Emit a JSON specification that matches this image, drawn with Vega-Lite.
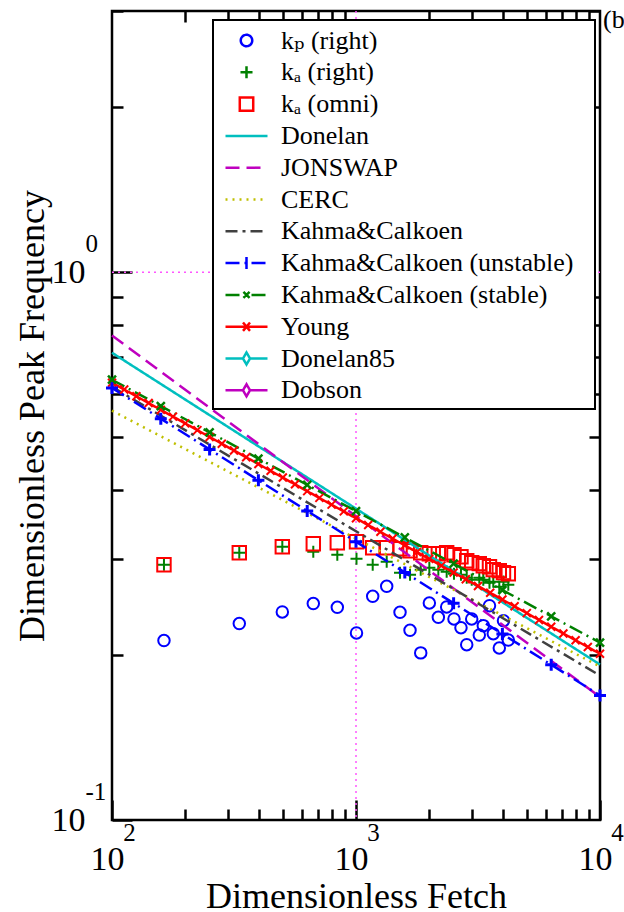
{
  "$schema": "https://vega.github.io/schema/vega-lite/v6.json",
  "width": 488,
  "height": 809,
  "autosize": {"type": "none"},
  "padding": {"left": 112, "top": 11, "right": 24, "bottom": 92},
  "background": "white",
  "config": {
    "font": "Times New Roman, Liberation Serif, DejaVu Serif, serif",
    "view": {"stroke": "black", "strokeWidth": 2.5},
    "style": {
      "guide-label": {"font": "Times New Roman, Liberation Serif, DejaVu Serif, serif", "fill": "black"},
      "guide-title": {"font": "Times New Roman, Liberation Serif, DejaVu Serif, serif", "fill": "black", "fontWeight": "normal"}
    },
    "axis": {"grid": false, "domain": false, "tickColor": "black", "tickWidth": 2.5, "labelFont": "Times New Roman, Liberation Serif, DejaVu Serif, serif", "titleFont": "Times New Roman, Liberation Serif, DejaVu Serif, serif", "labelColor": "black", "titleColor": "black", "titleFontWeight": "normal", "labelFlush": false, "labelOverlap": false},
    "legend": {"labelFont": "Times New Roman, Liberation Serif, DejaVu Serif, serif", "titleFont": "Times New Roman, Liberation Serif, DejaVu Serif, serif"},
    "text": {"font": "Times New Roman, Liberation Serif, DejaVu Serif, serif"}
  },
  "datasets": {
    "vrule": [{"x": 1000}],
    "hrule": [{"y": 1}],
    "tag": [{"x": 10000, "y": 3, "t": "(b)"}],
    "scatter": [
      {"series": "kₚ (right)", "x": 163.3, "y": 0.2126},
      {"series": "kₚ (right)", "x": 332.4, "y": 0.2284},
      {"series": "kₚ (right)", "x": 498.9, "y": 0.2398},
      {"series": "kₚ (right)", "x": 668.3, "y": 0.2484},
      {"series": "kₚ (right)", "x": 838.3, "y": 0.2445},
      {"series": "kₚ (right)", "x": 1004.7, "y": 0.2196},
      {"series": "kₚ (right)", "x": 1170.7, "y": 0.2561},
      {"series": "kₚ (right)", "x": 1336, "y": 0.2671},
      {"series": "kₚ (right)", "x": 1515, "y": 0.2394},
      {"series": "kₚ (right)", "x": 1665, "y": 0.222},
      {"series": "kₚ (right)", "x": 1842, "y": 0.2019},
      {"series": "kₚ (right)", "x": 1998, "y": 0.249},
      {"series": "kₚ (right)", "x": 2175, "y": 0.2345},
      {"series": "kₚ (right)", "x": 2353, "y": 0.2449},
      {"series": "kₚ (right)", "x": 2521, "y": 0.2329},
      {"series": "kₚ (right)", "x": 2693, "y": 0.2245},
      {"series": "kₚ (right)", "x": 2843, "y": 0.209},
      {"series": "kₚ (right)", "x": 2980, "y": 0.2329},
      {"series": "kₚ (right)", "x": 3201, "y": 0.2176},
      {"series": "kₚ (right)", "x": 3324, "y": 0.2264},
      {"series": "kₚ (right)", "x": 3524, "y": 0.2462},
      {"series": "kₚ (right)", "x": 3653, "y": 0.2189},
      {"series": "kₚ (right)", "x": 3866, "y": 0.2061},
      {"series": "kₚ (right)", "x": 4022, "y": 0.2312},
      {"series": "kₚ (right)", "x": 4209, "y": 0.2131},
      {"series": "kₐ (right)", "x": 163.3, "y": 0.2925},
      {"series": "kₐ (right)", "x": 332.4, "y": 0.3076},
      {"series": "kₐ (right)", "x": 498.9, "y": 0.3155},
      {"series": "kₐ (right)", "x": 668.3, "y": 0.309},
      {"series": "kₐ (right)", "x": 838.3, "y": 0.3051},
      {"series": "kₐ (right)", "x": 1004.7, "y": 0.3},
      {"series": "kₐ (right)", "x": 1170.7, "y": 0.2925},
      {"series": "kₐ (right)", "x": 1336, "y": 0.2963},
      {"series": "kₐ (right)", "x": 1515, "y": 0.2829},
      {"series": "kₐ (right)", "x": 1665, "y": 0.2805},
      {"series": "kₐ (right)", "x": 1842, "y": 0.2865},
      {"series": "kₐ (right)", "x": 1998, "y": 0.2889},
      {"series": "kₐ (right)", "x": 2175, "y": 0.2865},
      {"series": "kₐ (right)", "x": 2353, "y": 0.2841},
      {"series": "kₐ (right)", "x": 2521, "y": 0.2817},
      {"series": "kₐ (right)", "x": 2693, "y": 0.2805},
      {"series": "kₐ (right)", "x": 2843, "y": 0.277},
      {"series": "kₐ (right)", "x": 2980, "y": 0.2747},
      {"series": "kₐ (right)", "x": 3201, "y": 0.277},
      {"series": "kₐ (right)", "x": 3324, "y": 0.2747},
      {"series": "kₐ (right)", "x": 3524, "y": 0.2712},
      {"series": "kₐ (right)", "x": 3653, "y": 0.2724},
      {"series": "kₐ (right)", "x": 3866, "y": 0.2667},
      {"series": "kₐ (right)", "x": 4022, "y": 0.2724},
      {"series": "kₐ (right)", "x": 4209, "y": 0.2689},
      {"series": "kₐ (omni)", "x": 163.3, "y": 0.2925},
      {"series": "kₐ (omni)", "x": 332.4, "y": 0.3076},
      {"series": "kₐ (omni)", "x": 498.9, "y": 0.3155},
      {"series": "kₐ (omni)", "x": 668.3, "y": 0.3195},
      {"series": "kₐ (omni)", "x": 838.3, "y": 0.3209},
      {"series": "kₐ (omni)", "x": 1004.7, "y": 0.3222},
      {"series": "kₐ (omni)", "x": 1170.7, "y": 0.3142},
      {"series": "kₐ (omni)", "x": 1336, "y": 0.3142},
      {"series": "kₐ (omni)", "x": 1515, "y": 0.3129},
      {"series": "kₐ (omni)", "x": 1665, "y": 0.3102},
      {"series": "kₐ (omni)", "x": 1842, "y": 0.3076},
      {"series": "kₐ (omni)", "x": 1998, "y": 0.3064},
      {"series": "kₐ (omni)", "x": 2175, "y": 0.3064},
      {"series": "kₐ (omni)", "x": 2353, "y": 0.3076},
      {"series": "kₐ (omni)", "x": 2521, "y": 0.3051},
      {"series": "kₐ (omni)", "x": 2693, "y": 0.3025},
      {"series": "kₐ (omni)", "x": 2843, "y": 0.2975},
      {"series": "kₐ (omni)", "x": 2980, "y": 0.295},
      {"series": "kₐ (omni)", "x": 3201, "y": 0.2938},
      {"series": "kₐ (omni)", "x": 3324, "y": 0.2913},
      {"series": "kₐ (omni)", "x": 3524, "y": 0.2901},
      {"series": "kₐ (omni)", "x": 3653, "y": 0.2865},
      {"series": "kₐ (omni)", "x": 3866, "y": 0.2853},
      {"series": "kₐ (omni)", "x": 4022, "y": 0.2829},
      {"series": "kₐ (omni)", "x": 4209, "y": 0.2817}
    ],
    "lines": [
      {"series": "Donelan", "x": 100, "y": 0.713},
      {"series": "Donelan", "x": 10000, "y": 0.1922},
      {"series": "JONSWAP", "x": 100, "y": 0.767},
      {"series": "JONSWAP", "x": 10000, "y": 0.1677},
      {"series": "CERC", "x": 100, "y": 0.559},
      {"series": "CERC", "x": 10000, "y": 0.1906},
      {"series": "Kahma&Calkoen", "x": 100, "y": 0.618},
      {"series": "Kahma&Calkoen", "x": 10000, "y": 0.1835},
      {"series": "Kahma&Calkoen (unstable)", "x": 100, "y": 0.615},
      {"series": "Kahma&Calkoen (unstable)", "x": 10000, "y": 0.1688},
      {"series": "Kahma&Calkoen (stable)", "x": 100, "y": 0.6366},
      {"series": "Kahma&Calkoen (stable)", "x": 10000, "y": 0.2108},
      {"series": "Young", "x": 100, "y": 0.6286},
      {"series": "Young", "x": 10000, "y": 0.2011}
    ],
    "young": [
      {"series": "Young", "x": 100, "y": 0.6286},
      {"series": "Young", "x": 112.2, "y": 0.6109},
      {"series": "Young", "x": 125.9, "y": 0.5938},
      {"series": "Young", "x": 141.3, "y": 0.5771},
      {"series": "Young", "x": 158.5, "y": 0.5609},
      {"series": "Young", "x": 177.8, "y": 0.5451},
      {"series": "Young", "x": 199.5, "y": 0.5299},
      {"series": "Young", "x": 223.9, "y": 0.515},
      {"series": "Young", "x": 251.2, "y": 0.5005},
      {"series": "Young", "x": 281.8, "y": 0.4865},
      {"series": "Young", "x": 316.2, "y": 0.4728},
      {"series": "Young", "x": 354.8, "y": 0.4595},
      {"series": "Young", "x": 398.1, "y": 0.4467},
      {"series": "Young", "x": 446.7, "y": 0.4341},
      {"series": "Young", "x": 501.2, "y": 0.4219},
      {"series": "Young", "x": 562.3, "y": 0.4101},
      {"series": "Young", "x": 631, "y": 0.3986},
      {"series": "Young", "x": 707.9, "y": 0.3874},
      {"series": "Young", "x": 794.3, "y": 0.3765},
      {"series": "Young", "x": 891.3, "y": 0.366},
      {"series": "Young", "x": 1000, "y": 0.3556},
      {"series": "Young", "x": 1122, "y": 0.3457},
      {"series": "Young", "x": 1259, "y": 0.336},
      {"series": "Young", "x": 1413, "y": 0.3265},
      {"series": "Young", "x": 1585, "y": 0.3174},
      {"series": "Young", "x": 1778, "y": 0.3084},
      {"series": "Young", "x": 1995, "y": 0.2998},
      {"series": "Young", "x": 2239, "y": 0.2914},
      {"series": "Young", "x": 2512, "y": 0.2831},
      {"series": "Young", "x": 2818, "y": 0.2752},
      {"series": "Young", "x": 3162, "y": 0.2675},
      {"series": "Young", "x": 3548, "y": 0.26},
      {"series": "Young", "x": 3981, "y": 0.2527},
      {"series": "Young", "x": 4467, "y": 0.2456},
      {"series": "Young", "x": 5012, "y": 0.2386},
      {"series": "Young", "x": 5623, "y": 0.2319},
      {"series": "Young", "x": 6310, "y": 0.2254},
      {"series": "Young", "x": 7079, "y": 0.2191},
      {"series": "Young", "x": 7943, "y": 0.2129},
      {"series": "Young", "x": 8913, "y": 0.207},
      {"series": "Young", "x": 10000, "y": 0.2011}
    ],
    "unstable": [
      {"series": "Kahma&Calkoen (unstable)", "x": 100, "y": 0.615},
      {"series": "Kahma&Calkoen (unstable)", "x": 158.5, "y": 0.5404},
      {"series": "Kahma&Calkoen (unstable)", "x": 251.2, "y": 0.4748},
      {"series": "Kahma&Calkoen (unstable)", "x": 398.1, "y": 0.4173},
      {"series": "Kahma&Calkoen (unstable)", "x": 631, "y": 0.3667},
      {"series": "Kahma&Calkoen (unstable)", "x": 1000, "y": 0.3222},
      {"series": "Kahma&Calkoen (unstable)", "x": 1585, "y": 0.2831},
      {"series": "Kahma&Calkoen (unstable)", "x": 2512, "y": 0.2488},
      {"series": "Kahma&Calkoen (unstable)", "x": 3981, "y": 0.2186},
      {"series": "Kahma&Calkoen (unstable)", "x": 6310, "y": 0.1921},
      {"series": "Kahma&Calkoen (unstable)", "x": 10000, "y": 0.1688}
    ],
    "stable": [
      {"series": "Kahma&Calkoen (stable)", "x": 100, "y": 0.6366},
      {"series": "Kahma&Calkoen (stable)", "x": 158.5, "y": 0.5698},
      {"series": "Kahma&Calkoen (stable)", "x": 251.2, "y": 0.5102},
      {"series": "Kahma&Calkoen (stable)", "x": 398.1, "y": 0.4568},
      {"series": "Kahma&Calkoen (stable)", "x": 631, "y": 0.409},
      {"series": "Kahma&Calkoen (stable)", "x": 1000, "y": 0.3663},
      {"series": "Kahma&Calkoen (stable)", "x": 1585, "y": 0.328},
      {"series": "Kahma&Calkoen (stable)", "x": 2512, "y": 0.2937},
      {"series": "Kahma&Calkoen (stable)", "x": 3981, "y": 0.263},
      {"series": "Kahma&Calkoen (stable)", "x": 6310, "y": 0.2354},
      {"series": "Kahma&Calkoen (stable)", "x": 10000, "y": 0.2108}
    ]
  },
  "layer": [
    {
      "data": {"name": "vrule"},
      "mark": {"type": "rule", "color": "#ff55ff", "strokeDash": [2, 4], "strokeWidth": 1.5},
      "encoding": {
        "x": {"field": "x", "type": "quantitative", "scale": {"type": "log", "domain": [100, 10000]}, "axis": null}
      }
    },
    {
      "data": {"name": "hrule"},
      "mark": {"type": "rule", "color": "#ff55ff", "strokeDash": [2, 4], "strokeWidth": 1.5},
      "encoding": {
        "y": {"field": "y", "type": "quantitative", "scale": {"type": "log", "domain": [0.1, 3]}, "axis": null}
      }
    },
    {
      "data": {"name": "scatter"},
      "mark": {"type": "point", "filled": false, "size": 784, "strokeWidth": 2, "opacity": 1},
      "encoding": {
        "x": {"field": "x", "type": "quantitative", "scale": {"type": "log", "domain": [100, 10000]},
          "axis": {"orient": "bottom", "values": [100, 1000, 10000], "labelExpr": "'10'", "tickSize": -20, "labelFont": "Times New Roman, Liberation Serif, DejaVu Serif, serif", "titleFont": "Times New Roman, Liberation Serif, DejaVu Serif, serif", "labelFontSize": 34, "labelPadding": 42, "labelOffset": -5, "title": "Dimensionless Fetch", "titleFontSize": 36, "titlePadding": 3,
            "encode": {"labels": {"update": {"font": {"value": "Times New Roman, Liberation Serif, DejaVu Serif, serif"}}}, "title": {"update": {"font": {"value": "Times New Roman, Liberation Serif, DejaVu Serif, serif"}}}}}},
        "y": {"field": "y", "type": "quantitative", "scale": {"type": "log", "domain": [0.1, 3]},
          "axis": {"orient": "left", "values": [0.1, 1], "labelExpr": "'10'", "tickSize": -20, "labelFont": "Times New Roman, Liberation Serif, DejaVu Serif, serif", "titleFont": "Times New Roman, Liberation Serif, DejaVu Serif, serif", "labelFontSize": 34, "labelPadding": 47, "title": "Dimensionless Peak Frequency", "titleFontSize": 36, "titlePadding": 0,
            "encode": {"labels": {"update": {"font": {"value": "Times New Roman, Liberation Serif, DejaVu Serif, serif"}}}, "title": {"update": {"font": {"value": "Times New Roman, Liberation Serif, DejaVu Serif, serif"}}}}}},
        "color": {"field": "series", "type": "nominal",
          "scale": {"domain": ["kₚ (right)", "kₐ (right)", "kₐ (omni)", "Donelan", "JONSWAP", "CERC", "Kahma&Calkoen", "Kahma&Calkoen (unstable)", "Kahma&Calkoen (stable)", "Young", "Donelan85", "Dobson"],
                    "range": ["#0000ff", "#008000", "#ff0000", "#00bfbf", "#bf00bf", "#bfbf00", "#404040", "#0000ff", "#008000", "#ff0000", "#00bfbf", "#bf00bf"]},
          "legend": {"orient": "none", "legendX": 101, "legendY": 9, "fillColor": "white", "strokeColor": "black", "padding": 5, "rowPadding": 2.8, "symbolSize": 784, "symbolStrokeWidth": 2.5, "symbolFillColor": "transparent", "symbolOffset": 13, "labelOffset": 19, "labelFont": "Times New Roman, Liberation Serif, DejaVu Serif, serif", "labelFontSize": 26, "labelColor": "black", "labelLimit": 400, "title": " ", "titleOrient": "right", "titlePadding": 17, "titleFontSize": 10, "encode": {"legend": {"update": {"strokeWidth": {"value": 2}}}}}},
        "shape": {"field": "series", "type": "nominal",
          "scale": {"domain": ["kₚ (right)", "kₐ (right)", "kₐ (omni)", "Donelan", "JONSWAP", "CERC", "Kahma&Calkoen", "Kahma&Calkoen (unstable)", "Kahma&Calkoen (stable)", "Young", "Donelan85", "Dobson"],
                    "range": [
                      "M -0.41 0 A 0.41 0.41 0 1 0 0.41 0 A 0.41 0.41 0 1 0 -0.41 0 Z",
                      "M -0.43 0 L 0.43 0 M 0 -0.43 L 0 0.43",
                      "M -0.48 -0.48 L 0.48 -0.48 L 0.48 0.48 L -0.48 0.48 Z",
                      "M -1.5 0 L 1.5 0",
                      "M -1.5 0 L 1.5 0",
                      "M -1.5 0 L 1.5 0",
                      "M -1.5 0 L 1.5 0",
                      "M -1.5 0 L 1.5 0 M 0 -0.43 L 0 0.43",
                      "M -1.5 0 L 1.5 0 M -0.22 -0.22 L 0.22 0.22 M -0.22 0.22 L 0.22 -0.22",
                      "M -1.5 0 L 1.5 0 M -0.25 -0.3 L 0.25 0.3 M -0.25 0.3 L 0.25 -0.3",
                      "M -1.5 0 L -0.25 0 M 0.25 0 L 1.5 0 M 0 -0.43 L 0.25 0 L 0 0.43 L -0.25 0 Z",
                      "M -1.5 0 L -0.25 0 M 0.25 0 L 1.5 0 M 0 -0.43 L 0.25 0 L 0 0.43 L -0.25 0 Z"
                    ]},
          "legend": {"orient": "none", "legendX": 101, "legendY": 9, "fillColor": "white", "strokeColor": "black", "padding": 5, "rowPadding": 2.8, "symbolSize": 784, "symbolStrokeWidth": 2.5, "symbolFillColor": "transparent", "symbolOffset": 13, "labelOffset": 19, "labelFont": "Times New Roman, Liberation Serif, DejaVu Serif, serif", "labelFontSize": 26, "labelColor": "black", "labelLimit": 400, "title": " ", "titleOrient": "right", "titlePadding": 17, "titleFontSize": 10, "encode": {"legend": {"update": {"strokeWidth": {"value": 2}}}}}}
      }
    },
    {
      "data": {"name": "lines"},
      "mark": {"type": "line", "strokeWidth": 2.5},
      "encoding": {
        "x": {"field": "x", "type": "quantitative", "scale": {"type": "log", "domain": [100, 10000]},
          "axis": {"orient": "bottom", "values": [200, 300, 400, 500, 600, 700, 800, 900, 2000, 3000, 4000, 5000, 6000, 7000, 8000, 9000], "labels": false, "tickSize": -11, "title": null}},
        "y": {"field": "y", "type": "quantitative", "scale": {"type": "log", "domain": [0.1, 3]},
          "axis": {"orient": "left", "values": [0.2, 0.3, 0.4, 0.5, 0.6, 0.7, 0.8, 0.9, 2, 3], "labels": false, "tickSize": -11, "title": null}},
        "color": {"field": "series", "type": "nominal",
          "scale": {"domain": ["kₚ (right)", "kₐ (right)", "kₐ (omni)", "Donelan", "JONSWAP", "CERC", "Kahma&Calkoen", "Kahma&Calkoen (unstable)", "Kahma&Calkoen (stable)", "Young", "Donelan85", "Dobson"],
                    "range": ["#0000ff", "#008000", "#ff0000", "#00bfbf", "#bf00bf", "#bfbf00", "#404040", "#0000ff", "#008000", "#ff0000", "#00bfbf", "#bf00bf"]},
          "legend": null},
        "strokeDash": {"field": "series", "type": "nominal",
          "scale": {"domain": ["kₚ (right)", "kₐ (right)", "kₐ (omni)", "Donelan", "JONSWAP", "CERC", "Kahma&Calkoen", "Kahma&Calkoen (unstable)", "Kahma&Calkoen (stable)", "Young", "Donelan85", "Dobson"],
                    "range": [[1, 0], [1, 0], [1, 0], [1, 0], [14, 7], [2, 5], [12, 5, 3, 5], [14, 5, 2, 5], [14, 5, 2, 5], [1, 0], [1, 0], [1, 0]]},
          "legend": {"orient": "none", "legendX": 101, "legendY": 9, "fillColor": "white", "strokeColor": "black", "padding": 5, "rowPadding": 2.8, "symbolSize": 784, "symbolStrokeWidth": 2.5, "symbolFillColor": "transparent", "symbolOffset": 13, "labelOffset": 19, "labelFont": "Times New Roman, Liberation Serif, DejaVu Serif, serif", "labelFontSize": 26, "labelColor": "black", "labelLimit": 400, "title": " ", "titleOrient": "right", "titlePadding": 17, "titleFontSize": 10, "encode": {"legend": {"update": {"strokeWidth": {"value": 2}}}}}}
      }
    },
    {
      "data": {"name": "young"},
      "mark": {"type": "point", "filled": false, "shape": "M -1 -1 L 1 1 M -1 1 L 1 -1", "size": 64, "strokeWidth": 2, "opacity": 1},
      "encoding": {
        "x": {"field": "x", "type": "quantitative", "scale": {"type": "log", "domain": [100, 10000]},
          "axis": {"orient": "bottom", "values": [100, 1000, 10000], "labelExpr": "'' + round(log(datum.value)/LN10)", "ticks": false, "labelFont": "Times New Roman, Liberation Serif, DejaVu Serif, serif", "labelFontSize": 25, "labelOffset": 17, "labelPadding": 0, "title": null,
            "encode": {"labels": {"update": {"font": {"value": "Times New Roman, Liberation Serif, DejaVu Serif, serif"}}}}}},
        "y": {"field": "y", "type": "quantitative", "scale": {"type": "log", "domain": [0.1, 3]},
          "axis": {"orient": "left", "values": [0.1, 1], "labelExpr": "'' + round(log(datum.value)/LN10)", "ticks": false, "labelFont": "Times New Roman, Liberation Serif, DejaVu Serif, serif", "labelFontSize": 25, "labelAlign": "left", "labelBaseline": "middle", "labelPadding": 27, "labelOffset": -29, "title": null,
            "encode": {"labels": {"update": {"font": {"value": "Times New Roman, Liberation Serif, DejaVu Serif, serif"}}}}}},
        "color": {"field": "series", "type": "nominal",
          "scale": {"domain": ["kₚ (right)", "kₐ (right)", "kₐ (omni)", "Donelan", "JONSWAP", "CERC", "Kahma&Calkoen", "Kahma&Calkoen (unstable)", "Kahma&Calkoen (stable)", "Young", "Donelan85", "Dobson"],
                    "range": ["#0000ff", "#008000", "#ff0000", "#00bfbf", "#bf00bf", "#bfbf00", "#404040", "#0000ff", "#008000", "#ff0000", "#00bfbf", "#bf00bf"]},
          "legend": null}
      }
    },
    {
      "data": {"name": "unstable"},
      "mark": {"type": "point", "filled": false, "shape": "M -1 0 L 1 0 M 0 -1 L 0 1", "size": 144, "strokeWidth": 3, "opacity": 1},
      "encoding": {
        "x": {"field": "x", "type": "quantitative", "scale": {"type": "log", "domain": [100, 10000]},
          "axis": {"orient": "top", "values": [200, 300, 400, 500, 600, 700, 800, 900, 2000, 3000, 4000, 5000, 6000, 7000, 8000, 9000], "labels": false, "tickSize": -11, "title": null}},
        "y": {"field": "y", "type": "quantitative", "scale": {"type": "log", "domain": [0.1, 3]},
          "axis": {"orient": "right", "values": [0.2, 0.3, 0.4, 0.5, 0.6, 0.7, 0.8, 0.9, 2, 3], "labels": false, "tickSize": -11, "title": null}},
        "color": {"field": "series", "type": "nominal",
          "scale": {"domain": ["kₚ (right)", "kₐ (right)", "kₐ (omni)", "Donelan", "JONSWAP", "CERC", "Kahma&Calkoen", "Kahma&Calkoen (unstable)", "Kahma&Calkoen (stable)", "Young", "Donelan85", "Dobson"],
                    "range": ["#0000ff", "#008000", "#ff0000", "#00bfbf", "#bf00bf", "#bfbf00", "#404040", "#0000ff", "#008000", "#ff0000", "#00bfbf", "#bf00bf"]},
          "legend": null}
      }
    },
    {
      "data": {"name": "stable"},
      "mark": {"type": "point", "filled": false, "shape": "M -1 -1 L 1 1 M -1 1 L 1 -1", "size": 64, "strokeWidth": 2.5, "opacity": 1},
      "encoding": {
        "x": {"field": "x", "type": "quantitative", "scale": {"type": "log", "domain": [100, 10000]}, "axis": null},
        "y": {"field": "y", "type": "quantitative", "scale": {"type": "log", "domain": [0.1, 3]}, "axis": null},
        "color": {"field": "series", "type": "nominal",
          "scale": {"domain": ["kₚ (right)", "kₐ (right)", "kₐ (omni)", "Donelan", "JONSWAP", "CERC", "Kahma&Calkoen", "Kahma&Calkoen (unstable)", "Kahma&Calkoen (stable)", "Young", "Donelan85", "Dobson"],
                    "range": ["#0000ff", "#008000", "#ff0000", "#00bfbf", "#bf00bf", "#bfbf00", "#404040", "#0000ff", "#008000", "#ff0000", "#00bfbf", "#bf00bf"]},
          "legend": null}
      }
    },
    {
      "data": {"name": "tag"},
      "mark": {"type": "text", "align": "left", "baseline": "top", "dx": 3, "dy": -4, "font": "Times New Roman, Liberation Serif, DejaVu Serif, serif", "fontSize": 26, "color": "black"},
      "encoding": {
        "x": {"field": "x", "type": "quantitative", "scale": {"type": "log", "domain": [100, 10000]}, "axis": null},
        "y": {"field": "y", "type": "quantitative", "scale": {"type": "log", "domain": [0.1, 3]}, "axis": null},
        "text": {"field": "t"}
      }
    }
  ],
  "resolve": {"axis": {"x": "independent", "y": "independent"}}
}
